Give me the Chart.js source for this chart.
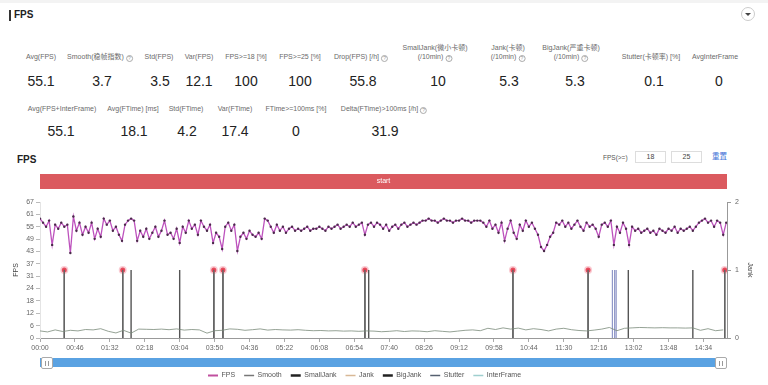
<!DOCTYPE html>
<html><head><meta charset="utf-8">
<script src="https://cdn.jsdelivr.net/npm/chart.js@4/dist/chart.umd.min.js"></script>
<style>
html,body{margin:0;padding:0;background:#fff;}
body{width:768px;height:385px;position:relative;overflow:hidden;font-family:"Liberation Sans",Arial,"Noto Sans CJK SC",sans-serif;}
.abs{position:absolute;white-space:nowrap;}
.lbl{font-size:7px;color:#6a6a6a;text-align:center;transform:translateX(-50%);line-height:9px;}
.val{font-size:14px;color:#222;transform:translateX(-50%);line-height:16px;}
.q{display:inline-block;width:5px;height:5px;border:1px solid #aaa;border-radius:50%;font-size:5px;line-height:5px;text-align:center;color:#999;margin-left:2px;vertical-align:-1px;}
#cv{position:absolute;left:0;top:165px;}
.handle{position:absolute;top:357px;width:10px;height:10px;background:#fff;border:1px solid #aaa;border-radius:2px;z-index:3;}
.handle:before,.handle:after{content:"";position:absolute;top:3px;width:1px;height:5px;background:#999;}
.handle:before{left:3px}.handle:after{left:6px}
</style></head><body>
<div class="abs" style="left:0;top:0;width:768px;height:3px;background:#f3f3f3"></div>
<div class="abs" style="left:9px;top:10px;width:1.5px;height:11px;background:#333"></div>
<div class="abs" style="left:14px;top:9px;font-size:10px;font-weight:bold;color:#222;line-height:12px">FPS</div>
<div class="abs" style="left:741px;top:7px;width:14px;height:14px;border:1px solid #ccc;border-radius:50%;box-sizing:border-box"></div>
<div class="abs" style="left:745px;top:13px;width:0;height:0;border-left:3px solid transparent;border-right:3px solid transparent;border-top:3px solid #444"></div>
<div id="stats"></div>
<div class="abs" style="left:17px;top:154px;font-size:10px;font-weight:bold;color:#222;line-height:12px">FPS</div>
<div class="abs" style="left:603px;top:153px;font-size:6.5px;color:#555;line-height:9px">FPS(&gt;=)</div>
<div class="abs" style="left:635px;top:151px;width:31px;height:12px;border:1px solid #ddd;box-sizing:border-box;font-size:7px;line-height:10px;text-align:center;color:#444">18</div>
<div class="abs" style="left:671px;top:151px;width:31px;height:12px;border:1px solid #ddd;box-sizing:border-box;font-size:7px;line-height:10px;text-align:center;color:#444">25</div>
<div class="abs" style="left:712px;top:152px;font-size:7.5px;color:#3d6fd6;line-height:10px">重置</div>
<canvas id="cv" width="768" height="220" style="width:768px;height:220px"></canvas>
<div class="abs" style="left:40px;top:358px;width:687px;height:9px;background:#5aa2e2;z-index:2"></div>
<div class="handle" style="left:41px"></div>
<div class="handle" style="left:715px"></div>
<script>
// ---------- stats ----------
const row1Labels = ['Avg(FPS)','Smooth(稳帧指数)','Std(FPS)','Var(FPS)','FPS>=18 [%]','FPS>=25 [%]','Drop(FPS) [/h]','SmallJank(微小卡顿)|(/10min)','Jank(卡顿)|(/10min)','BigJank(严重卡顿)|(/10min)','Stutter(卡顿率) [%]','AvgInterFrame'];
const row1Values = ['55.1','3.7','3.5','12.1','100','100','55.8','10','5.3','5.3','0.1','0'];
const row1Help = [0,1,0,0,0,0,1,1,1,1,0,0];
const row2Labels = ['Avg(FPS+InterFrame)','Avg(FTime) [ms]','Std(FTime)','Var(FTime)','FTime>=100ms [%]','Delta(FTime)>100ms [/h]'];
const row2Values = ['55.1','18.1','4.2','17.4','0','31.9'];
const row2Help = [0,0,0,0,0,1];

// ---------- chart data ----------
const FPS_STEP_S = 4;
const fpsValues = [
59,57,55,58,46,56,54,57,55,56,
42,60,53,57,51,55,52,57,49,54,
50,59,56,58,53,55,51,48,56,58,
59,58,48,53,50,54,49,52,55,50,
53,58,51,52,49,54,47,55,52,58,
54,56,51,58,55,53,56,47,52,50,
44,55,57,53,56,43,50,52,49,53,
51,50,52,49,59,58,55,52,56,53,
55,52,54,55,53,54,53,54,55,53,
54,54,55,54,53,55,54,55,56,54,
55,56,55,57,55,56,57,51,56,57,
55,57,56,54,56,53,55,56,54,56,
57,55,56,57,56,57,58,58,59,58,
58,57,58,59,58,58,57,58,58,59,
58,58,57,58,58,58,57,55,58,54,
56,52,57,48,54,58,52,49,56,53,
58,55,57,54,51,45,43,46,50,52,
57,56,58,55,57,54,56,58,55,53,
57,55,56,54,50,56,57,55,58,46,
55,52,57,54,46,55,53,54,52,53,
54,52,53,51,54,53,52,54,53,55,
52,54,53,54,55,53,55,57,58,59,
57,58,55,58,57,51,57];
const SMOOTH_STEP_S = 10;
const smoothValues = [
3.5,3.0,4.0,3.2,3.8,3.5,4.2,4.0,4.6,3.3,
2.5,3.8,2.4,4.4,4.3,4.2,4.4,4.1,4.5,3.9,
4.2,4.0,2.4,3.6,3.8,4.5,4.3,3.8,4.1,4.5,
3.9,4.2,4.0,3.9,4.1,3.8,3.6,3.7,3.5,3.6,
3.4,3.5,3.3,3.5,3.4,3.1,3.3,3.6,3.2,3.5,
3.4,3.1,3.6,3.3,3.0,3.4,3.8,4.0,3.6,4.8,
4.2,5.0,4.4,4.9,4.0,4.6,4.2,3.5,4.4,4.8,
4.1,3.7,3.5,3.9,4.4,5.2,3.6,4.8,5.0,5.2,
5.1,5.0,5.1,5.0,5.0,4.9,5.0,3.8,4.6,3.6,4.0];
const smallJankTimes = [120,184,433,775,860];
const jankTimes = [32,109,229,241,428,623,722,902];
const bigJankTimes = [32,109,229,241,428,623,722,902];
const stutterTimes = [754,757,759];
const interFrameValues = [];
const JANK_LEVEL = 1;
const xTickLabels = ['00:00','00:46','01:32','02:18','03:04','03:50','04:36','05:22','06:08','06:54','07:40','08:26','09:12','09:58','10:44','11:30','12:16','13:02','13:48','14:34'];
const xMaxSeconds = 905;
const yLeftTickLabels = [0,6,12,18,24,31,37,43,49,55,61,67];
const yLeftMax = 67.2;
const phaseNames = ['start'];
const phaseStarts = [0];
const phaseEnds = [905];

// ---------- build stats HTML ----------
const row1LabelX = [41,100,159,199,246,300,361,435,508,571,651,715];
const row1ValueX = [41,102,160,199,246,300,363,438,509,575,654,719];
const row2LabelX = [62,133,186,235,296,384];
const row2ValueX = [61,134,187,235,296,385];
function statHTML(labels, values, help, lx, vx, labelBottom, valueTop){
  let h='';
  labels.forEach((l,i)=>{
    const lines=l.split('|');
    const q = help[i] ? '<span class="q">?</span>' : '';
    const txt = lines.map((s,j)=> s + (j===lines.length-1?q:'')).join('<br>');
    h += `<div class="abs lbl" style="left:${lx[i]}px;top:${labelBottom-9*lines.length}px">${txt}</div>`;
    h += `<div class="abs val" style="left:${vx[i]}px;top:${valueTop}px">${values[i]}</div>`;
  });
  return h;
}
document.getElementById('stats').innerHTML =
  statHTML(row1Labels,row1Values,row1Help,row1LabelX,row1ValueX,61,73) +
  statHTML(row2Labels,row2Values,row2Help,row2LabelX,row2ValueX,112.5,123);

// ---------- chart ----------
const toSec = s => { const [m,ss]=s.split(':').map(Number); return m*60+ss; };
const fpsData = fpsValues.map((v,i)=>({x:i*FPS_STEP_S,y:v}));
const smoothData = smoothValues.map((v,i)=>({x:i*SMOOTH_STEP_S,y:v}));
function spikes(times){ const out=[]; times.forEach(t=>{ out.push({x:t,y:0},{x:t,y:JANK_LEVEL},{x:t,y:null}); }); return out; }

Chart.defaults.font.family = '"Liberation Sans", Arial, sans-serif';
Chart.defaults.color = '#666';

const phasePlugin = {
  id:'phaseBar',
  beforeDatasetsDraw(chart){
    const xs=chart.scales.x, ca=chart.chartArea, ctx=chart.ctx;
    ctx.save();
    phaseNames.forEach((n,i)=>{
      const x0=xs.getPixelForValue(phaseStarts[i]), x1=xs.getPixelForValue(phaseEnds[i]);
      ctx.fillStyle='#db5a5f';
      ctx.fillRect(x0, ca.top-28, x1-x0, 15);
      ctx.fillStyle='#fff'; ctx.font='7px "Liberation Sans", Arial';
      ctx.textAlign='center'; ctx.textBaseline='middle';
      ctx.fillText(n,(x0+x1)/2, ca.top-20.5);
    });
    ctx.restore();
  }
};
const legendShift = {
  id:'legendShift',
  afterLayout(chart){
    const lg=chart.legend; const pad=lg.options.labels.padding;
    const dx = 208 - (lg.left + pad);
    lg.left+=dx; lg.right+=dx; lg.top+=4; lg.bottom+=4;
  }
};

const legendColors = ['#c0509f','#777','#222','#d8b896','#222','#556070','#9fcfcf'];
const legendWidths = [2,1.5,2.5,1.5,2.5,1.5,1.5];

new Chart(document.getElementById('cv'), {
  type:'line',
  data:{ datasets:[
    {label:'FPS', data:fpsData, yAxisID:'y', borderColor:'#bd52bd', borderWidth:1.3, pointRadius:1.2, pointBackgroundColor:'#4a2a4a', pointBorderWidth:0, tension:0},
    {label:'Smooth', data:smoothData, yAxisID:'y', borderColor:'#7a8a7a', borderWidth:0.8, pointRadius:0, tension:0},
    {label:'SmallJank', data:spikes(smallJankTimes), yAxisID:'y1', borderColor:'#555', borderWidth:1.4, pointRadius:0, spanGaps:false},
    {label:'Jank', data:spikes(jankTimes), yAxisID:'y1', borderColor:'#666', borderWidth:1.4, pointRadius:0, spanGaps:false},
    {label:'BigJank', data:spikes(bigJankTimes), yAxisID:'y1', borderColor:'#555', borderWidth:1.4, spanGaps:false,
      pointRadius: c => (c.raw && c.raw.y===JANK_LEVEL) ? 2.5 : 0,
      pointBackgroundColor:'#e03c4c', pointBorderColor:'rgba(240,110,130,0.35)', pointBorderWidth:3},
    {label:'Stutter', data:spikes(stutterTimes), yAxisID:'y1', borderColor:'rgba(95,105,175,0.75)', borderWidth:1.1, pointRadius:0, spanGaps:false},
    {label:'InterFrame', data:interFrameValues, yAxisID:'y', borderColor:'#9fcfcf', borderWidth:1, pointRadius:0}
  ]},
  options:{
    responsive:false, animation:false, devicePixelRatio:1,
    layout:{padding:{top:37,left:0,right:0,bottom:0}},
    plugins:{
      tooltip:{enabled:false},
      legend:{position:'bottom', align:'start',
        labels:{usePointStyle:true, pointStyleWidth:10, padding:9, font:{size:7}, color:'#555',
          generateLabels(chart){ return chart.data.datasets.map((ds,i)=>({text:ds.label, fillStyle:legendColors[i], strokeStyle:legendColors[i], lineWidth:legendWidths[i], pointStyle:'line', datasetIndex:i, hidden:false, fontColor:'#555'})); }
        }}
    },
    scales:{
      x:{type:'linear', min:0, max:xMaxSeconds,
        afterBuildTicks: s => { s.ticks = xTickLabels.map(l=>({value:toSec(l)})); },
        ticks:{autoSkip:false, maxRotation:0, font:{size:7}, color:'#666', padding:2,
          callback:(v)=>{ const i=xTickLabels.findIndex(l=>toSec(l)===v); return i>=0?xTickLabels[i]:''; }},
        grid:{drawOnChartArea:false, tickLength:4, color:'#aaa'},
        border:{color:'#999'},
        afterFit: s => { s.height = 21; }
      },
      y:{position:'left', min:0, max:yLeftMax,
        afterBuildTicks: s => { s.ticks = yLeftTickLabels.map((l,i)=>({value:i*yLeftMax/(yLeftTickLabels.length-1)})); },
        ticks:{autoSkip:false, font:{size:7}, color:'#666', padding:2,
          callback:(v,i)=> yLeftTickLabels[i]},
        grid:{drawOnChartArea:false, tickLength:4, color:'#bbb'},
        border:{color:'#e4e4e4'},
        title:{display:true, text:'FPS', font:{size:7}, color:'#444', padding:{top:12,bottom:0}},
        afterFit: s => { s.width = 40; }
      },
      y1:{position:'right', min:0, max:2,
        ticks:{stepSize:1, font:{size:7}, color:'#666', padding:4},
        grid:{drawOnChartArea:false, tickLength:4, color:'#999'},
        border:{color:'#999'},
        title:{display:true, text:'Jank', font:{size:7}, color:'#444', padding:{top:14,bottom:0}},
        afterFit: s => { s.width = 41; }
      }
    }
  },
  plugins:[phasePlugin, legendShift]
});
</script>
</body></html>
